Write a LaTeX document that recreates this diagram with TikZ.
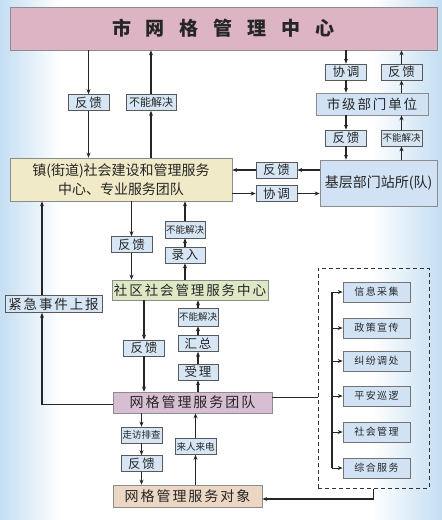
\documentclass[tikz,border=0pt]{standalone}
\usepackage{fontspec}
\setmainfont{Noto Sans CJK SC}
\newfontfamily\cjksp[LetterSpace=14]{Noto Sans CJK SC}
\usetikzlibrary{arrows.meta}
\definecolor{bgblue}{RGB}{196,222,242}
\definecolor{citypink}{RGB}{221,180,196}
\definecolor{townbeige}{RGB}{240,234,200}
\definecolor{commgreen}{RGB}{222,232,196}
\definecolor{teammauve}{RGB}{216,190,210}
\definecolor{targetpeach}{RGB}{236,214,196}
\definecolor{labblue}{RGB}{214,230,244}
\definecolor{unitblue}{RGB}{208,226,244}
\newcommand\tgap{\hspace{15pt}}
\tikzset{
  lab/.style={draw=black!65,line width=.7pt,fill=labblue,minimum width=41pt,minimum height=16pt,
    font=\fontsize{12.5}{14}\cjksp},
  labs/.style={lab,font=\fontsize{9.5}{11}\selectfont},
  bigbox/.style={draw=black!45,line width=.6pt,align=center},
  unit/.style={bigbox,fill=unitblue},
  item/.style={draw=black!55,line width=.6pt,fill=unitblue,minimum width=67pt,
    minimum height=20pt,font=\fontsize{10}{12}\cjksp}
}
\begin{document}
\begin{tikzpicture}
  [x=1pt,y=-1pt,>={Stealth[length=5pt,width=4pt]},line width=1.1pt,
   every node/.style={inner sep=0pt,text=black!85}]
  \useasboundingbox (0,0) rectangle (442,520);
  \fill[white] (0,0) rectangle (442,520);
  \fill[left color=bgblue,right color=white] (0,0) rectangle (60,520);
  \fill[left color=white,right color=bgblue] (372,0) rectangle (442,520);

  \node[bigbox,fill=citypink,minimum width=427pt,minimum height=43pt,
    font=\fontsize{19}{22}\selectfont\bfseries] (city) at (223.5,28.5)
    {市\tgap 网\tgap 格\tgap 管\tgap 理\tgap 中\tgap 心};
  \node[lab] (fk1) at (88.5,102.5) {反馈};
  \node[labs,minimum width=50pt] (bn1) at (151,102.5) {\fontsize{11}{12}\selectfont 不能解决};
  \node[lab] (xt1) at (346,72) {协调};
  \node[lab] (fk2) at (401.5,72) {反馈};
  \node[unit,minimum width=112pt,minimum height=22pt,font=\fontsize{13.5}{15}\cjksp] (sj) at (372,104) {市级部门单位};
  \node[lab] (fk3) at (346,138) {反馈};
  \node[labs] (bn2) at (401.5,138) {不能解决};
  \node[unit,minimum width=117pt,minimum height=46pt,font=\fontsize{14}{16}\selectfont] (jc) at (378.5,183) {基层部门站所(队)};
  \node[bigbox,fill=townbeige,minimum width=222pt,minimum height=43pt,
    font=\fontsize{14}{19}\selectfont] (zj) at (121,179.5) {镇(街道)社会建设和管理服务\\中心、专业服务团队};
  \node[lab] (fk4) at (276.5,170) {反馈};
  \node[lab] (xt2) at (276.5,193.5) {协调};
  \node[lab] (fk5) at (131.5,244.5) {反馈};
  \node[labs,minimum width=40pt,minimum height=17pt] (bn3) at (185,229.5) {不能解决};
  \node[lab,minimum width=40pt] (lr) at (185,255) {录入};
  \node[bigbox,fill=commgreen,minimum width=156pt,minimum height=20pt,
    font=\fontsize{13.5}{15}\cjksp] (sq) at (190,290) {社区社会管理服务中心};
  \node[lab,minimum width=97pt,minimum height=17pt,font=\fontsize{13.5}{15}\cjksp] (jj) at (53.5,304) {紧急事件上报};
  \node[lab] (fk6) at (144,348) {反馈};
  \node[labs,minimum width=40pt,minimum height=18pt] (bn4) at (198,317) {不能解决};
  \node[lab,minimum width=40pt] (hz) at (198,343.5) {汇总};
  \node[lab,minimum width=40pt] (sl) at (198,372) {受理};
  \node[bigbox,fill=teammauve,minimum width=159pt,minimum height=21pt,
    font=\fontsize{14}{16}\cjksp] (wg) at (192.5,402.5) {网格管理服务团队};
  \node[labs] (zf) at (141.5,435) {走访排查};
  \node[lab] (fk7) at (141.5,463.5) {反馈};
  \node[labs] (lr2) at (195.5,446.5) {来人来电};
  \node[bigbox,fill=targetpeach,minimum width=149pt,minimum height=22pt,
    font=\fontsize{14}{16}\cjksp] (dx) at (187.5,496) {网格管理服务对象};
  \node[draw=black!80,line width=1pt,dash pattern=on 4pt off 3pt,
    minimum width=111pt,minimum height=220pt] (grp) at (373.5,378) {};
  \node[item] (it1) at (376.5,292) {信息采集};
  \node[item] (it2) at (376.5,328) {政策宣传};
  \node[item] (it3) at (376.5,361) {纠纷调处};
  \node[item] (it4) at (376.5,396) {平安巡逻};
  \node[item] (it5) at (376.5,432) {社会管理};
  \node[item] (it6) at (376.5,468) {综合服务};
  \coordinate (br) at (332,292);
  \coordinate (lside) at (42,300);

  \begin{scope}[draw=black!85]
  \foreach \col/\from/\to in {fk1/city/fk1,fk1/fk1/zj,xt1/city/xt1,xt1/xt1/sj,
    fk3/sj/fk3,fk3/fk3/jc,fk5/zj/fk5,fk5/fk5/sq,fk6/sq/fk6,fk6/fk6/wg,
    zf/wg/zf,zf/zf/fk7,zf/fk7/dx}
  \draw[->] (\from.south -| \col) -- (\to.north -| \col);
  \foreach \col/\from/\to in {bn1/zj/bn1,bn1/bn1/city,fk2/sj/fk2,fk2/fk2/city,
    bn2/jc/bn2,bn2/bn2/sj,lr/sq/lr,lr/lr/bn3,lr/bn3/zj,sl/wg/sl,sl/sl/hz,
    sl/hz/bn4,sl/bn4/sq,lr2/dx/lr2,lr2/lr2/wg}
  \draw[->] (\from.north -| \col) -- (\to.south -| \col);
  \draw[->] (jc.west |- fk4) -- (fk4);
  \draw[->] (fk4) -- (zj.east |- fk4);
  \draw[->] (zj.east |- xt2) -- (xt2);
  \draw[->] (xt2) -- (jc.west |- xt2);
  \draw[->] ([yshift=-2pt]wg.west) -| (jj.south -| lside);
  \draw[->] (jj.north -| lside) -- (zj.south -| lside);
  \draw ([yshift=5pt]wg.east) -- ([yshift=5pt]wg.east -| grp.west);
  \draw (it1.west -| br) -- (it6.west -| br);
  \foreach \i in {1,...,6}
  \draw[->,line width=.9pt] (it\i.west -| br) -- (it\i);
  \draw[->] (grp.south) |- ([yshift=-3pt]dx.east);
  \end{scope}
\end{tikzpicture}
\end{document}
